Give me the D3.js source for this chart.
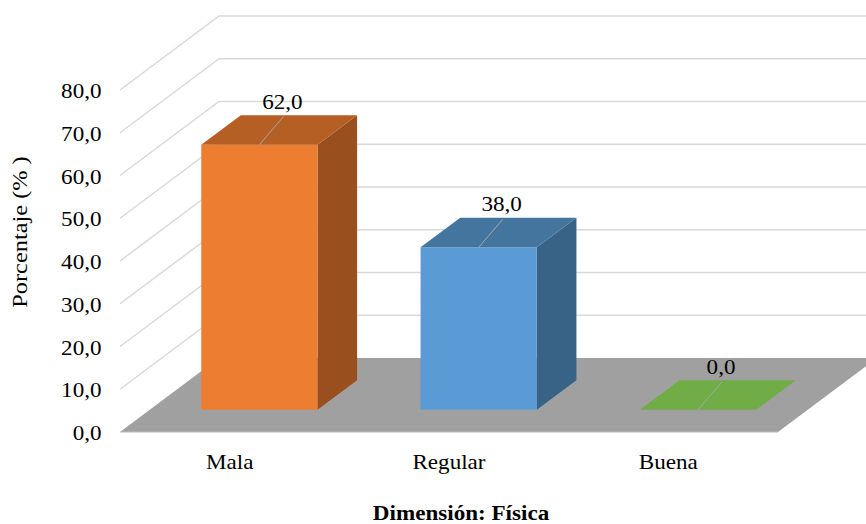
<!DOCTYPE html>
<html>
<head>
<meta charset="utf-8">
<script src="https://cdn.jsdelivr.net/npm/d3@7"></script>
<style>
  html, body { margin: 0; padding: 0; background: #fff; }
  svg { display: block; }
  text { font-family: "Liberation Serif", "Times New Roman", serif; fill: #000; }
</style>
</head>
<body>
<svg id="chart" width="866" height="524"></svg>
<script>
// Data
const categories = ["Mala", "Regular", "Buena"];
const values = [62.0, 38.0, 0.0];
const tickValues = [0, 10, 20, 30, 40, 50, 60, 70, 80];
const yTitle = "Porcentaje (% )";
const xTitle = "Dimensión: Física";

// Palette per category: front, top, side
const faceColors = [
  { front: "#ED7D31", top: "#B55F25", side: "#9A4F1E" },
  { front: "#5B9BD5", top: "#44759F", side: "#386286" },
  { front: "#70AD47", top: "#70A040", side: "#5A8A38" }
];

const W = 866, H = 524;
const svg = d3.select("#chart");

// Front plane of the plot and oblique depth offset
const front = { left: 120, right: 778, bottom: 432, top: 90 };
const depth = { dx: 99, dy: -74 };
const barZ0 = 0.30, barZ1 = 0.70;   // bar depth range (fraction of floor depth)
const barFrac = 0.53;               // bar width as fraction of band
const stretch = 1.1;                // horizontal text stretch

const x = d3.scaleBand().domain(categories).range([front.left, front.right]).padding(0);
const y = d3.scaleLinear().domain([0, 80]).range([front.bottom, front.top]);

const fmt = d3.formatLocale({ decimal: ",", thousands: ".", grouping: [3], currency: ["", ""] }).format(".1f");

// Project a point (front-plane x, value, depth fraction z) to screen
function P(px, v, z) {
  return [px + z * depth.dx, y(v) + z * depth.dy];
}
const poly = pts => "M" + pts.map(p => p.join(",")).join("L") + "Z";

// Gridlines: back wall horizontals and left wall diagonals
const grid = svg.append("g").attr("stroke", "#D9D9D9").attr("stroke-width", 1.5).attr("fill", "none");
tickValues.filter(t => t > 0).forEach(t => {
  const a = P(front.left, t, 0), b = P(front.left, t, 1), c = P(front.right + 200, t, 1);
  grid.append("path").attr("d", `M${a}L${b}L${c}`);
});

// Floor
svg.append("path")
  .attr("d", poly([P(front.left, 0, 0), P(front.right, 0, 0), P(front.right, 0, 1), P(front.left, 0, 1)]))
  .attr("fill", "#A0A0A0");
svg.append("line")
  .attr("x1", front.left).attr("x2", front.right)
  .attr("y1", y(0)).attr("y2", y(0))
  .attr("stroke", "#BFBFBF").attr("stroke-width", 1);

// Bars
const bars = svg.append("g");
categories.forEach((c, i) => {
  const v = values[i];
  const cx = x(c) + x.bandwidth() / 2;
  const bw = x.bandwidth() * barFrac;
  const x0 = cx - bw / 2, x1 = cx + bw / 2;
  const col = faceColors[i];
  const g = bars.append("g");
  if (v > 0) {
    // right side
    g.append("path")
      .attr("d", poly([P(x1, 0, barZ0), P(x1, 0, barZ1), P(x1, v, barZ1), P(x1, v, barZ0)]))
      .attr("fill", col.side);
    // front
    g.append("path")
      .attr("d", poly([P(x0, 0, barZ0), P(x1, 0, barZ0), P(x1, v, barZ0), P(x0, v, barZ0)]))
      .attr("fill", col.front);
  }
  // top
  g.append("path")
    .attr("d", poly([P(x0, v, barZ0), P(x1, v, barZ0), P(x1, v, barZ1), P(x0, v, barZ1)]))
    .attr("fill", v > 0 ? col.top : col.front);

  // Data label with leader line
  const [fx, fy] = P(cx, v, barZ0);
  g.append("line")
    .attr("x1", fx).attr("y1", fy)
    .attr("x2", fx + 24).attr("y2", fy - 28)
    .attr("stroke", "#A6A6A6").attr("stroke-width", 1);
  g.append("text")
    .attr("transform", `translate(${fx + 23},${fy - 36}) scale(${stretch},1)`)
    .attr("text-anchor", "middle")
    .attr("font-size", 21)
    .text(fmt(v));
});

// Value axis labels
const yAxis = svg.append("g")
  .attr("transform", `translate(${front.left},0)`)
  .call(d3.axisLeft(y).tickValues(tickValues).tickFormat(fmt).tickSize(0).tickPadding(0));
yAxis.select(".domain").remove();
yAxis.selectAll(".tick text")
  .attr("x", null).attr("dy", null)
  .attr("font-size", 21)
  .attr("font-family", "Liberation Serif, Times New Roman, serif")
  .attr("text-anchor", "end")
  .attr("transform", `translate(-18.5,7.5) scale(${stretch},1)`);

// Category axis labels
const xAxis = svg.append("g")
  .attr("transform", `translate(0,${front.bottom})`)
  .call(d3.axisBottom(x).tickSize(0).tickPadding(0));
xAxis.select(".domain").remove();
xAxis.selectAll(".tick text")
  .attr("y", null).attr("dy", null)
  .attr("font-size", 21)
  .attr("font-family", "Liberation Serif, Times New Roman, serif")
  .attr("transform", `translate(0,37) scale(${stretch},1)`);

// Axis titles
svg.append("text")
  .attr("transform", `translate(27,232) rotate(-90) scale(1.16,1)`)
  .attr("text-anchor", "middle")
  .attr("font-size", 21)
  .text(yTitle);

svg.append("text")
  .attr("transform", `translate(461,519.5) scale(${stretch},1)`)
  .attr("text-anchor", "middle")
  .attr("font-size", 21)
  .attr("font-weight", "bold")
  .text(xTitle);
</script>
</body>
</html>
